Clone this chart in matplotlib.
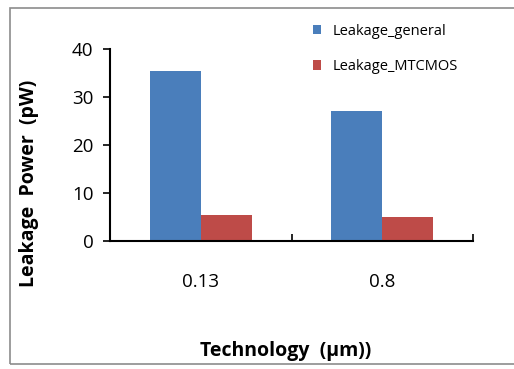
import matplotlib.pyplot as plt
from matplotlib.patches import Rectangle
import numpy as np

technologies = ['0.13', '0.8']
leakage_general = [35.5, 27.0]
leakage_mtcmos = [5.5, 5.0]

plt.rcParams['font.family'] = ['Open Sans', 'DejaVu Sans']

fig = plt.figure(figsize=(5.14, 3.69), dpi=100)
fig.patch.set_facecolor('white')

# grey frame around the chart area
fig.patches.append(Rectangle((10 / 514, 1 - 364 / 369), 1.2, (364 - 8) / 369,
                             transform=fig.transFigure, fill=False,
                             edgecolor='#8c8c8c', linewidth=1.2))

ax = fig.add_axes([110 / 514, 1 - 241 / 369, 363 / 514, (241 - 49) / 369])

x = np.arange(len(technologies))
w = 0.28
ax.bar(x - w / 2, leakage_general, w, color='#4a7ebb', label='Leakage_general')
ax.bar(x + w / 2, leakage_mtcmos, w, color='#be4b48', label='Leakage_MTCMOS')

ax.set_xlim(-0.5, 1.5)
ax.set_ylim(0, 40)
ax.set_yticks([0, 10, 20, 30, 40])

# category boundaries get the tick marks, centres get the labels
ax.set_xticks([-0.5, 0.5, 1.5])
ax.set_xticklabels([])
ax.tick_params(axis='x', which='major', direction='in', length=5, width=1.2)
ax.set_xticks(x, minor=True)
ax.set_xticklabels(technologies, minor=True)
ax.tick_params(axis='x', which='minor', length=0, pad=23, labelsize=13.5)
ax.tick_params(axis='y', direction='out', length=5, width=1.2, labelsize=13.5, pad=7)

for s in ['top', 'right']:
    ax.spines[s].set_visible(False)
for s in ['left', 'bottom']:
    ax.spines[s].set_linewidth(1.5)

ax.set_ylabel('Leakage  Power  (pW)', fontsize=14, fontweight='bold')
ax.yaxis.set_label_coords(-0.195, 0.30)
ax.set_xlabel('Technology  (μm))', fontsize=14, fontweight='bold')
ax.xaxis.set_label_coords(0.485, -0.52)

ax.legend(loc='upper left', bbox_to_anchor=(0.522, 1.2), frameon=False,
          fontsize=10.5, handlelength=0.6, handleheight=0.6, handletextpad=0.8,
          labelspacing=1.4)

fig.savefig('out.png', dpi=100)
